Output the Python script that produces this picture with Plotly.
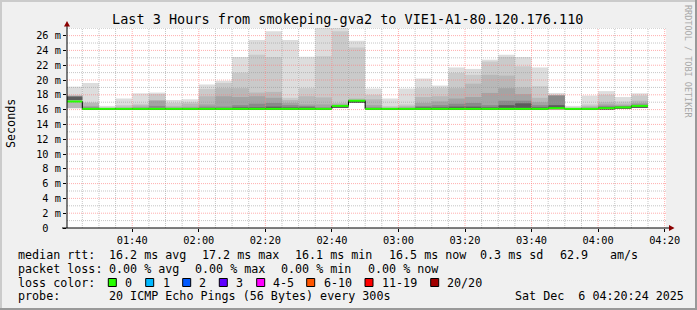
import plotly.graph_objects as go
import pandas as pd

# ---------------- data ----------------
bar_start = pd.date_range("2025-12-06 01:20", periods=35, freq="5min")

median_rtt = [17.1, 16.1, 16.1, 16.1, 16.1, 16.1, 16.1, 16.1, 16.1, 16.1,
              16.1, 16.1, 16.1, 16.1, 16.1, 16.1, 16.5, 17.2, 16.1, 16.1,
              16.1, 16.1, 16.1, 16.1, 16.1, 16.1, 16.1, 16.1, 16.1, 16.2,
              16.1, 16.1, 16.2, 16.3, 16.5]

# smoke band tops (ms), outermost/lightest first
smoke_top1 = [19.1, 19.6, 16.5, 17.5, 18.2, 18.3, 17.3, 17.4, 19.4, 19.9,
              23.1, 25.4, 26.6, 25.4, 23.15, 27.1, 27.1, 25.3, 18.85, 17.5,
              18.85, 20.2, 19.25, 21.7, 21.5, 22.75, 23.4, 23.1, 21.7, 18.25,
              16.5, 17.9, 18.5, 17.7, 18.2]
smoke_top2 = [18.0, 17.0, 16.3, 16.6, 16.8, 18.1, 16.9, 17.0, 18.8, 19.6,
              21.0, 23.4, 23.1, 17.6, 18.9, 23.2, 26.6, 24.4, 18.0, 16.5,
              16.7, 18.9, 18.9, 20.95, 20.7, 22.5, 23.1, 21.85, 19.15, 18.0,
              16.3, 16.7, 18.0, 17.1, 17.9]
smoke_top3 = [17.9, 16.9, 16.2, 16.4, 16.6, 17.3, 16.5, 16.8, 17.8, 18.9,
              18.9, 18.3, 18.4, 17.3, 17.8, 17.65, 16.9, 17.5, 17.4, 16.3,
              16.5, 17.7, 17.8, 18.9, 19.5, 20.7, 20.6, 19.0, 17.6, 17.95,
              16.2, 16.5, 17.0, 16.8, 17.2]
smoke_top4 = [17.8, 16.5, 16.15, 16.2, 16.4, 17.2, 16.3, 16.4, 16.7, 17.8,
              17.7, 17.8, 17.6, 16.9, 16.7, 16.7, 16.7, 17.3, 16.6, 16.2,
              16.3, 16.9, 17.1, 17.5, 17.7, 18.25, 18.9, 18.1, 17.0, 17.9,
              16.15, 16.3, 16.7, 16.6, 16.9]
smoke_top5 = [17.8, 16.3, 16.1, 16.15, 16.2, 16.5, 16.2, 16.2, 16.4, 16.4,
              16.6, 16.8, 16.9, 16.6, 16.5, 16.3, 16.6, 17.25, 16.3, 16.1,
              16.2, 16.5, 16.6, 16.8, 16.9, 16.6, 17.2, 17.2, 16.6, 17.9,
              16.1, 16.2, 16.5, 16.45, 16.7]
smoke_top6 = [17.75, 16.2, 16.1, 16.1, 16.1, 16.2, 16.1, 16.1, 16.2, 16.2,
              16.3, 16.3, 16.4, 16.3, 16.3, 16.2, 16.5, 17.2, 16.2, 16.1,
              16.1, 16.3, 16.3, 16.4, 16.4, 16.3, 16.6, 16.85, 16.3, 16.6,
              16.1, 16.1, 16.3, 16.35, 16.55]
smoke_bottom_outer = [16.2, 15.95, 15.95, 15.95, 15.95, 15.95, 15.95, 15.95, 15.95, 15.95,
                      15.95, 15.95, 15.95, 15.95, 15.95, 15.95, 16.3, 17.0, 15.95, 15.95,
                      15.95, 15.95, 15.95, 15.95, 15.95, 15.95, 15.95, 15.95, 15.95, 16.05,
                      15.95, 15.95, 16.05, 16.15, 16.35]
smoke_bottom_inner = [17.3] + smoke_bottom_outer[1:]

y_tick_vals = list(range(0, 27, 2))
y_tick_text = ["0\u00a0\u00a0"] + [f"{v} m" for v in range(2, 27, 2)]
x_tick_text = ["01:40", "02:00", "02:20", "02:40", "03:00", "03:20", "03:40", "04:00", "04:20"]

title_text = "Last 3 Hours from smokeping-gva2 to VIE1-A1-80.120.176.110"
loss_labels = ["0", "1", "2", "3", "4-5", "6-10", "11-19", "20/20"]
loss_colors = ["#26ff00", "#00b8ff", "#0059ff", "#5e00ff", "#ff00ff", "#ff5500", "#ff0000", "#a10000"]

# ---------------- layout geometry ----------------
W, H = 697, 310
ML, MR, MT, MB = 67, 31, 28, 82
PW = W - ML - MR
PH = H - MT - MB
YMAX = 27.03
X0 = pd.Timestamp("2025-12-06 01:20:24")
X1 = pd.Timestamp("2025-12-06 04:20:24")


def xp(px):
    return (px - ML) / PW


def yp(py):
    return (H - MB - py) / PH


FONT = "DejaVu Sans Mono"
fig = go.Figure()

# smoke
shades = ["#dddddd", "#cacaca", "#b8b8b8", "#a4a4a4", "#8a8a8a", "#5c5c5c"]
tops = [smoke_top1, smoke_top2, smoke_top3, smoke_top4, smoke_top5, smoke_top6]
centers = bar_start + pd.Timedelta("150s")
for j, top in enumerate(tops):
    base = smoke_bottom_outer if j < 3 else smoke_bottom_inner
    fig.add_trace(go.Bar(
        x=centers, y=[t - b for t, b in zip(top, base)], base=base,
        width=300000, marker=dict(color=shades[j], line=dict(width=0)),
        hoverinfo="skip", showlegend=False))

# grid (drawn above smoke)
def vlines(times):
    xs, ys = [], []
    for t in times:
        xs += [t, t, None]
        ys += [0, YMAX, None]
    return xs, ys


def hlines(vals):
    xs, ys = [], []
    for v in vals:
        xs += [X0, X1, None]
        ys += [v, v, None]
    return xs, ys


grid_times = pd.date_range("2025-12-06 01:25", "2025-12-06 04:20", freq="5min")
minor_t = [t for t in grid_times if t.minute % 20 != 0]
major_t = [t for t in grid_times if t.minute % 20 == 0]
minor_c = "rgba(150,150,150,0.55)"
major_c = "rgba(255,120,120,0.6)"
for (xs, ys), c in [(vlines(minor_t), minor_c), (hlines(range(1, 28, 2)), minor_c),
                    (vlines(major_t), major_c), (hlines(range(2, 27, 2)), major_c)]:
    fig.add_trace(go.Scatter(x=xs, y=ys, mode="lines",
                             line=dict(color=c, width=1, dash="1px,1px"),
                             hoverinfo="skip", showlegend=False))

# median line: black steps + green levels
bar_end = bar_start + pd.Timedelta("5min")
fig.add_trace(go.Scatter(x=list(bar_start) + [bar_end[-1]], y=median_rtt + [median_rtt[-1]],
                         mode="lines", line=dict(color="black", width=1, shape="hv"),
                         hoverinfo="skip", showlegend=False))
gx, gy = [], []
for s, e, m in zip(bar_start, bar_end, median_rtt):
    gx += [s, e, None]
    gy += [m, m, None]
fig.add_trace(go.Scatter(x=gx, y=gy, mode="lines", line=dict(color="#26ff00", width=2),
                         hoverinfo="skip", showlegend=False))

shapes = []
# frame
shapes += [
    dict(type="rect", xref="paper", yref="paper", x0=xp(0), x1=xp(W), y0=yp(0), y1=yp(2),
         fillcolor="#cbcbcb", line=dict(width=0), layer="above"),
    dict(type="rect", xref="paper", yref="paper", x0=xp(0), x1=xp(2), y0=yp(0), y1=yp(H),
         fillcolor="#cbcbcb", line=dict(width=0), layer="above"),
    dict(type="rect", xref="paper", yref="paper", x0=xp(W - 2), x1=xp(W), y0=yp(0), y1=yp(H),
         fillcolor="#999999", line=dict(width=0), layer="above"),
    dict(type="rect", xref="paper", yref="paper", x0=xp(0), x1=xp(W), y0=yp(H - 2), y1=yp(H),
         fillcolor="#999999", line=dict(width=0), layer="above"),
]
# axes lines + arrows
shapes += [
    dict(type="line", xref="paper", yref="paper", x0=xp(62), x1=xp(670), y0=0, y1=0,
         line=dict(color="black", width=1), layer="above"),
    dict(type="line", xref="paper", yref="paper", x0=0, x1=0, y0=0, y1=yp(26),
         line=dict(color="black", width=1), layer="above"),
    dict(type="path", xref="paper", yref="paper",
         path=f"M {xp(67)} {yp(21)} L {xp(64)} {yp(26.5)} L {xp(70)} {yp(26.5)} Z",
         fillcolor="#8b0000", line=dict(width=0), layer="above"),
    dict(type="path", xref="paper", yref="paper",
         path=f"M {xp(674.5)} {yp(228)} L {xp(669)} {yp(225)} L {xp(669)} {yp(231)} Z",
         fillcolor="#8b0000", line=dict(width=0), layer="above"),
]
# loss colour boxes
box_px = [108.3, 145.7, 182.7, 219.3, 256.7, 306.7, 365.0, 430.7]
for bx, col in zip(box_px, loss_colors):
    shapes.append(dict(type="rect", xref="paper", yref="paper", x0=xp(bx), x1=xp(bx + 8),
                       y0=yp(286.5), y1=yp(278.5), fillcolor=col,
                       line=dict(color="black", width=1), layer="above"))

ann = []


def text(s, px, py, size=11.7, anchor="left", color="black", angle=0):
    ann.append(dict(text=s, x=xp(px), y=yp(py), xref="paper", yref="paper",
                    xanchor=anchor, yanchor="middle", showarrow=False, textangle=angle,
                    font=dict(family=FONT, size=size, color=color)))


text(title_text, 347, 19, size=13.5, anchor="center")
text("Seconds", 11, 124, angle=-90, anchor="center")
text("RRDTOOL / TOBI OETIKER", 688, 61, size=8.5, anchor="center", color="#a8a8a8", angle=90)

line1 = [("median rtt:", 16), ("16.2 ms avg", 107.3), ("17.2 ms max", 200), ("16.1 ms min", 293.3),
         ("16.5 ms now", 386.7), ("0.3 ms sd", 478.3), ("62.9", 558.3), ("am/s", 608.3)]
line2 = [("packet loss:", 16), ("0.00 % avg", 107.3), ("0.00 % max", 193.3), ("0.00 % min", 279.3),
         ("0.00 % now", 366)]
lab_px = [123.3, 160.7, 197.3, 234.3, 271, 321.7, 380, 445]
line3 = [("loss color:", 16)] + list(zip(loss_labels, lab_px))
line4 = [("probe:", 16), ("20 ICMP Echo Pings (56 Bytes) every 300s", 107.3),
         ("Sat Dec\u00a0\u00a06 04:20:24 2025", 513.3)]
for segs, py in [(line1, 255), (line2, 268.5), (line3, 282.5), (line4, 296)]:
    for s, px in segs:
        text(s, px, py)

fig.update_layout(
    width=W, height=H, margin=dict(l=ML, r=MR, t=MT, b=MB),
    paper_bgcolor="#f0f0f0", plot_bgcolor="#ffffff",
    barmode="overlay", showlegend=False,
    shapes=shapes, annotations=ann,
    xaxis=dict(type="date", range=[X0, X1], showgrid=False, zeroline=False, showline=False,
               tickvals=major_t, ticktext=x_tick_text, ticks="outside", ticklen=3,
               tickcolor="black", tickfont=dict(family=FONT, size=10.3, color="black"),
               fixedrange=True),
    yaxis=dict(range=[0, YMAX], showgrid=False, zeroline=False, showline=False,
               tickvals=y_tick_vals, ticktext=y_tick_text, ticks="outside", ticklen=3,
               tickcolor="black", tickfont=dict(family=FONT, size=10.3, color="black"),
               fixedrange=True),
)
fig.write_html("out.html", config={"displayModeBar": False})
